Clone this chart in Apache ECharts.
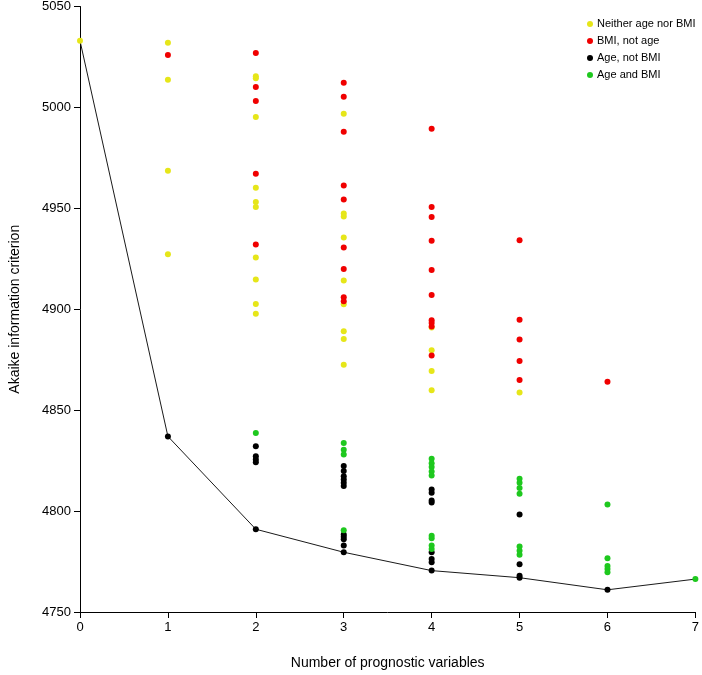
<!DOCTYPE html>
<html>
<head>
<meta charset="utf-8">
<script src="https://cdn.jsdelivr.net/npm/echarts@6/dist/echarts.min.js"></script>
<style>
html,body{margin:0;padding:0;background:#fff;}
#chart{width:702px;height:675px;}
</style>
</head>
<body>
<div id="chart"></div>
<script>
const xTicks = [0, 1, 2, 3, 4, 5, 6, 7];
const yTicks = [4750, 4800, 4850, 4900, 4950, 5000, 5050];
const seriesNames = ["Neither age nor BMI", "BMI, not age", "Age, not BMI", "Age and BMI"];
const seriesColors = ["#e6e619", "#f00000", "#000000", "#1ec81e"];

// [number of variables, AIC]
const neither = [
  [0, 5033],
  [1, 5032.1], [1, 5013.7], [1, 4968.6], [1, 4927.3],
  [2, 5015.4], [2, 5014.4], [2, 4995.2], [2, 4960.2], [2, 4953.1], [2, 4950.6], [2, 4925.7], [2, 4914.7], [2, 4902.6], [2, 4897.8],
  [3, 4996.9], [3, 4947.4], [3, 4946], [3, 4935.6], [3, 4914.2], [3, 4902.5], [3, 4889.1], [3, 4885.3], [3, 4872.5],
  [4, 4891], [4, 4879.7], [4, 4869.4], [4, 4859.9],
  [5, 4858.7]
];
const bmiNotAge = [
  [1, 5026],
  [2, 5027], [2, 5010.1], [2, 5003.2], [2, 4967.1], [2, 4932.1],
  [3, 5012.2], [3, 5005.3], [3, 4987.9], [3, 4961.3], [3, 4954.4], [3, 4930.6], [3, 4920], [3, 4906], [3, 4904],
  [4, 4989.4], [4, 4950.6], [4, 4945.7], [4, 4933.9], [4, 4919.5], [4, 4907], [4, 4894.5], [4, 4893.2], [4, 4891.5], [4, 4877.1],
  [5, 4934.2], [5, 4894.8], [5, 4885], [5, 4874.3], [5, 4864.9],
  [6, 4864.1]
];
const ageNotBmi = [
  [1, 4837],
  [2, 4832.1], [2, 4827.2], [2, 4825.5], [2, 4824.2], [2, 4791],
  [3, 4822.3], [3, 4819.8], [3, 4817.3], [3, 4815.7], [3, 4814], [3, 4812.4], [3, 4788.4], [3, 4787.3], [3, 4786], [3, 4782.9], [3, 4779.6],
  [4, 4810.7], [4, 4809.1], [4, 4805.3], [4, 4804.2], [4, 4779.6], [4, 4776.3], [4, 4774.6], [4, 4770.5],
  [5, 4798.3], [5, 4773.6], [5, 4768], [5, 4767],
  [6, 4761]
];
const ageAndBmi = [
  [2, 4838.7],
  [3, 4833.7], [3, 4830.4], [3, 4828], [3, 4790.5],
  [4, 4825.9], [4, 4823.7], [4, 4821.8], [4, 4819.6], [4, 4817.6], [4, 4787.8], [4, 4786.5], [4, 4782.9], [4, 4781.2],
  [5, 4816], [5, 4814], [5, 4811.4], [5, 4808.6], [5, 4782.4], [5, 4780.3], [5, 4778.4],
  [6, 4803.3], [6, 4776.6], [6, 4772.8], [6, 4771.3], [6, 4769.7],
  [7, 4766.3]
];
// best (minimum) AIC per number of variables
const bestAIC = [5033, 4837, 4791, 4779.6, 4770.5, 4767, 4761, 4766.3];

const groups = [neither, bmiNotAge, ageNotBmi, ageAndBmi];
const font = "Liberation Sans, Arial, sans-serif";

const chart = echarts.init(document.getElementById('chart'), null, {renderer: 'canvas'});
const series = [{
  type: 'line',
  name: 'best',
  data: xTicks.map((x, i) => [x, bestAIC[i]]),
  showSymbol: false,
  lineStyle: {color: '#1a1a1a', width: 1},
  z: 1,
  silent: true
}];
groups.forEach((g, i) => {
  series.push({
    type: 'scatter',
    name: seriesNames[i],
    data: g,
    symbol: 'circle',
    symbolSize: 6,
    itemStyle: {color: seriesColors[i], opacity: 1},
    z: 2 + i
  });
});

chart.setOption({
  animation: false,
  backgroundColor: '#fff',
  grid: {left: 73, right: 6, top: 5, bottom: 61, containLabel: false},
  legend: {
    data: seriesNames,
    orient: 'vertical',
    left: 582,
    top: 13,
    icon: 'circle',
    itemWidth: 6,
    itemHeight: 6,
    itemGap: 5,
    textStyle: {fontFamily: font, fontSize: 11, color: '#000', lineHeight: 12, padding: [0, 0, 0, -1]}
  },
  xAxis: {
    type: 'value',
    min: 0, max: 7, interval: 1,
    name: 'Number of prognostic variables',
    nameLocation: 'middle',
    nameGap: 44,
    nameTextStyle: {fontFamily: font, fontSize: 14, color: '#000'},
    axisLine: {show: true, lineStyle: {color: '#000', width: 1}},
    axisTick: {show: true, length: 6, lineStyle: {color: '#000'}},
    axisLabel: {fontFamily: font, fontSize: 13, color: '#000', margin: 9},
    splitLine: {show: false}
  },
  yAxis: {
    type: 'value',
    min: 4750, max: 5050, interval: 50,
    name: 'Akaike information criterion',
    nameLocation: 'middle',
    nameGap: 58,
    nameRotate: 90,
    nameTextStyle: {fontFamily: font, fontSize: 14, color: '#000'},
    axisLine: {show: true, lineStyle: {color: '#000', width: 1}},
    axisTick: {show: true, length: 6, lineStyle: {color: '#000'}},
    axisLabel: {fontFamily: font, fontSize: 13, color: '#000', margin: 9, formatter: v => String(v)},
    splitLine: {show: false}
  },
  series: series
});
</script>
</body>
</html>
